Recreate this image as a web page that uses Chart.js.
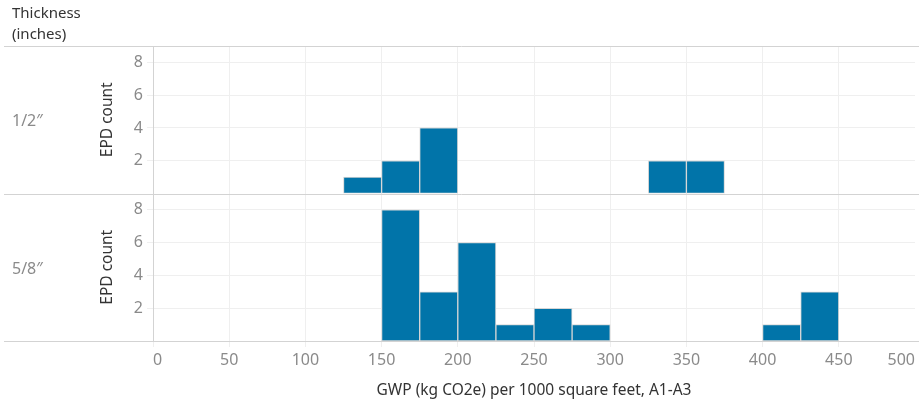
<!DOCTYPE html>
<html>
<head>
<meta charset="utf-8">
<script src="https://cdn.jsdelivr.net/npm/chart.js@4/dist/chart.umd.min.js"></script>
<style>
    html, body { margin: 0; padding: 0; background: #fff; overflow: hidden; }
    #wrap { position: relative; width: 919px; height: 404px; }
</style>
</head>
<body>
<div id="wrap"><canvas id="histChart"></canvas></div>
<script>
// Histogram bins (25 wide), centre of each bin
const binMids = [12.5, 37.5, 62.5, 87.5, 112.5, 137.5, 162.5, 187.5, 212.5, 237.5,
                 262.5, 287.5, 312.5, 337.5, 362.5, 387.5, 412.5, 437.5, 462.5, 487.5];
// EPD count per bin
const halfInchCounts = [0, 0, 0, 0, 0, 1, 2, 4, 0, 0, 0, 0, 0, 2, 2, 0, 0, 0, 0, 0];
const fiveEighthCounts = [0, 0, 0, 0, 0, 0, 8, 3, 6, 1, 2, 1, 0, 0, 0, 0, 1, 3, 0, 0];
const thicknessLabels = ['1/2\u2033', '5/8\u2033'];
const xTicks = [0, 50, 100, 150, 200, 250, 300, 350, 400, 450, 500];
const yTicks = [2, 4, 6, 8];

const barColour = '#0174a9';
const gridColour = '#efefef';
const lineColour = '#d3d3d3';
const tickColour = '#8a8a8a';
const textColour = '#333333';
const fontFamily = '"Noto Sans", sans-serif';

function toPoints(counts) {
    return binMids.map((x, i) => ({ x: x, y: counts[i] > 0 ? counts[i] : null }));
}

// separator lines, row header and facet labels
const facetPlugin = {
    id: 'facets',
    beforeDatasetsDraw(chart) {
        const ctx = chart.ctx;
        const area = chart.chartArea;
        const yBot = chart.scales.yBot;
        ctx.save();
        ctx.strokeStyle = lineColour;
        ctx.lineWidth = 1;
        [area.top, yBot.top, area.bottom].forEach(y => {
            const py = Math.round(y) + 0.5;
            ctx.beginPath();
            ctx.moveTo(4, py);
            ctx.lineTo(chart.width, py);
            ctx.stroke();
        });
        ctx.restore();
    },
    afterDraw(chart) {
        const ctx = chart.ctx;
        const panels = [chart.scales.yTop, chart.scales.yBot];
        ctx.save();
        ctx.textBaseline = 'middle';
        ctx.textAlign = 'left';
        ctx.font = '15px ' + fontFamily;
        ctx.fillStyle = textColour;
        ctx.fillText('Thickness', 12, 14);
        ctx.fillText('(inches)', 12, 35);
        ctx.font = '16px ' + fontFamily;
        ctx.fillStyle = tickColour;
        panels.forEach((s, i) => {
            ctx.fillText(thicknessLabels[i], 12, (s.top + s.bottom) / 2 + 2);
        });
        ctx.restore();
    }
};

function yScale(weight) {
    return {
        type: 'linear',
        position: 'left',
        stack: 'rows',
        stackWeight: 1,
        weight: weight,
        min: 0,
        max: 9,
        afterBuildTicks: scale => { scale.ticks = yTicks.map(v => ({ value: v })); },
        afterFit: scale => { scale.width = 60; },
        ticks: {
            color: tickColour,
            padding: 4,
            font: { family: fontFamily, size: 16 }
        },
        grid: { color: gridColour, tickLength: 6 },
        border: { color: lineColour },
        title: {
            display: true,
            text: 'EPD count',
            color: textColour,
            padding: { top: 5, bottom: 0 },
            font: { family: fontFamily, size: 15.5 }
        }
    };
}

const ctx = document.getElementById('histChart').getContext('2d');
new Chart(ctx, {
    type: 'bar',
    data: {
        datasets: [
            {
                label: thicknessLabels[0],
                data: toPoints(halfInchCounts),
                yAxisID: 'yTop',
                backgroundColor: barColour,
                borderColor: '#d6d6d6',
                borderWidth: 1,
                borderSkipped: false,
                grouped: false,
                barPercentage: 1,
                categoryPercentage: 1
            },
            {
                label: thicknessLabels[1],
                data: toPoints(fiveEighthCounts),
                yAxisID: 'yBot',
                backgroundColor: barColour,
                borderColor: '#d6d6d6',
                borderWidth: 1,
                borderSkipped: false,
                grouped: false,
                barPercentage: 1,
                categoryPercentage: 1
            }
        ]
    },
    options: {
        animation: false,
        responsive: true,
        maintainAspectRatio: false,
        layout: { padding: { left: 93, top: 46, right: 0, bottom: 0 } },
        scales: {
            x: {
                type: 'linear',
                min: 0,
                max: 500,
                offset: false,
                afterBuildTicks: scale => { scale.ticks = xTicks.map(v => ({ value: v })); },
                afterFit: scale => { scale.height = 63; },
                ticks: {
                    color: tickColour,
                    padding: 4,
                    align: 'inner',
                    maxRotation: 0,
                    font: { family: fontFamily, size: 16 }
                },
                grid: {
                    offset: false,
                    color: c => c.tick && c.tick.value === 500 ? 'rgba(0,0,0,0)' : gridColour,
                    tickLength: 6
                },
                border: { color: lineColour },
                title: {
                    display: true,
                    text: 'GWP (kg CO2e) per 1000 square feet, A1-A3',
                    color: textColour,
                    padding: { top: 0, bottom: 4 },
                    font: { family: fontFamily, size: 15.5 }
                }
            },
            yTop: yScale(1),
            yBot: yScale(0)
        },
        plugins: {
            legend: { display: false },
            tooltip: { enabled: false }
        }
    },
    plugins: [facetPlugin]
});
</script>
</body>
</html>
